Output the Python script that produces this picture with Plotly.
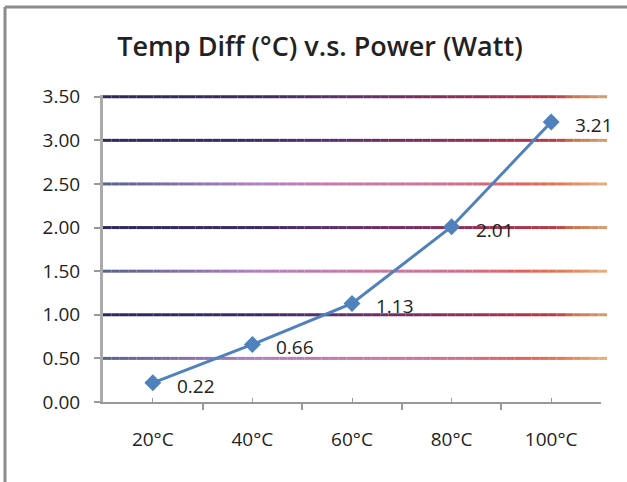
import plotly.graph_objects as go

categories = ["20°C", "40°C", "60°C", "80°C", "100°C"]
temp_diff = [0.22, 0.66, 1.13, 2.01, 3.21]
y_ticks = [0.0, 0.5, 1.0, 1.5, 2.0, 2.5, 3.0, 3.5]
y_tick_labels = ["0.00", "0.50", "1.00", "1.50", "2.00", "2.50", "3.00", "3.50"]

W, H = 627, 482
L, R, T, B = 103, 26, 95, 80
pw, ph = W - L - R, H - T - B
FONT = "Open Sans, Lato, sans-serif"

x_pos = list(range(1, len(categories) + 1))

fig = go.Figure()
fig.add_trace(go.Scatter(
    x=x_pos, y=temp_diff, mode="lines+markers",
    line=dict(color="#4F81BD", width=3),
    marker=dict(symbol="diamond", size=13, color="#4F81BD"),
    hoverinfo="skip", showlegend=False,
))

for xv, yv in zip(x_pos, temp_diff):
    fig.add_annotation(x=xv, y=yv, text=f"{yv:.2f}", showarrow=False,
                       xanchor="left", yanchor="middle", xshift=22, yshift=-3,
                       font=dict(family=FONT, size=19, color="#222"))

def hex2rgb(h):
    h = h.lstrip("#")
    return tuple(int(h[i:i+2], 16) for i in (0, 2, 4))

stops_a = [(0.0, "#2e2860"), (0.3, "#3a2a66"), (0.45, "#5a3070"), (0.62, "#7a2d60"),
           (0.78, "#a03050"), (0.9, "#b83a45"), (0.93, "#c87048"), (1.0, "#d8a070")]
stops_b = [(0.0, "#55638c"), (0.12, "#7a6aa0"), (0.3, "#b080c0"), (0.5, "#c878a8"),
           (0.7, "#d07090"), (0.82, "#e06060"), (0.9, "#e07550"), (1.0, "#e8b080")]

def interp(stops, t):
    for (p0, c0), (p1, c1) in zip(stops[:-1], stops[1:]):
        if p0 <= t <= p1:
            f = (t - p0) / (p1 - p0) if p1 > p0 else 0
            a, b = hex2rgb(c0), hex2rgb(c1)
            return "rgb(%d,%d,%d)" % tuple(round(a[i] + (b[i] - a[i]) * f) for i in range(3))
    return stops[-1][1]

N = 60
x_end = (607 - L) / pw
for yv in y_ticks[1:]:
    stops = stops_a if yv in (1.0, 2.0, 3.0, 3.5) else stops_b
    for i in range(N):
        x0 = x_end * i / N
        x1 = x_end * (i + 1) / N
        t = (i + 0.5) / N
        fig.add_shape(type="line", xref="paper", yref="y", x0=x0, x1=x1, y0=yv, y1=yv,
                      line=dict(color=interp(stops, t), width=3), layer="below")

# outer frame (left and top)
fx0 = (5 - L) / pw
fy1 = 1 + (T - 7) / ph
fy0 = -(B + 5) / ph
fig.add_shape(type="line", xref="paper", yref="paper", x0=fx0, x1=fx0, y0=fy0, y1=fy1,
              line=dict(color="#8c8c8c", width=3))
fig.add_shape(type="line", xref="paper", yref="paper", x0=fx0, x1=(W + 5 - L) / pw, y0=fy1, y1=fy1,
              line=dict(color="#8c8c8c", width=3))

fig.update_layout(
    width=W, height=H,
    margin=dict(l=L, r=R, t=T, b=B),
    paper_bgcolor="white", plot_bgcolor="white",
    title=dict(text="Temp Diff (°C) v.s. Power (Watt)", x=320 / W, xanchor="center",
               y=1 - 47 / H, yanchor="middle",
               font=dict(family=FONT, size=27, color="#222", weight=600)),
    xaxis=dict(
        range=[0.5, 5.5], tickmode="array", tickvals=x_pos, ticktext=categories,
        ticks="inside", ticklen=4, tickwidth=1, tickcolor="#999",
        showline=True, linecolor="#999", linewidth=2, showgrid=False, zeroline=False,
        ticklabelstandoff=19,
        tickfont=dict(family=FONT, size=19, color="#222"),
        minor=dict(tickmode="array", tickvals=[0.5, 1.5, 2.5, 3.5, 4.5, 5.5],
                   ticks="outside", ticklen=6, tickcolor="#999", tickwidth=2),
    ),
    yaxis=dict(
        range=[0, 3.52], tickmode="array", tickvals=y_ticks, ticktext=y_tick_labels,
        ticks="outside", ticklen=6, tickcolor="#999", tickwidth=2,
        showline=True, linecolor="#aaa", linewidth=3, showgrid=False, zeroline=False,
        ticklabelstandoff=10,
        tickfont=dict(family=FONT, size=19, color="#222"),
    ),
)

fig.write_html("out.html", config={"displayModeBar": False},
               post_script="document.body.style.margin='0';")
